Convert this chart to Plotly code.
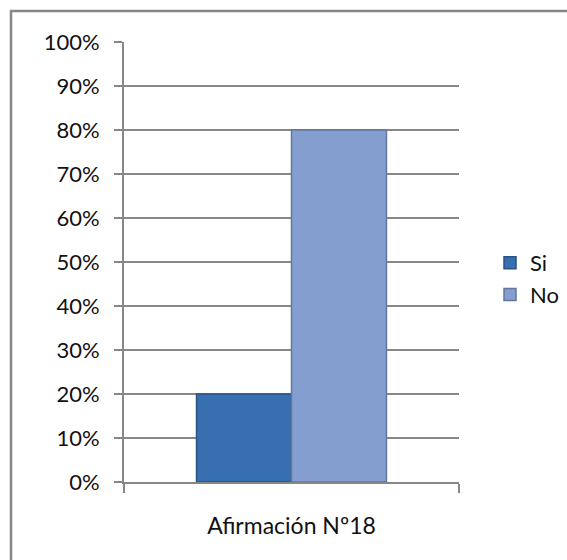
import plotly.graph_objects as go

categories = ["Afirmación Nº18"]
series_names = ["Si", "No"]
series_values = [[0.20], [0.80]]
series_colors = ["#386fb1", "#839ecf"]
series_lines = ["#2a5286", "#62779e"]

y_tickvals = [i / 10 for i in range(11)]
y_ticktext = [f"{i * 10}%" for i in range(11)]

FONT = "Lato"
GREY = "#878787"
W, H = 567, 560

fig = go.Figure()
for name, vals, col, lcol in zip(series_names, series_values, series_colors, series_lines):
    fig.add_trace(go.Bar(
        x=categories, y=vals, name=name,
        marker=dict(color=col, line=dict(color=lcol, width=1.5)),
    ))

# chart frame: only the left and top edges fall inside the canvas
bx, by = 11 / W, 1 - 11 / H
frame_path = f"M {bx},0 L {bx},{by} L 1,{by}"

fig.update_layout(
    width=W, height=H,
    margin=dict(l=0, r=0, t=0, b=0, autoexpand=False),
    paper_bgcolor="white", plot_bgcolor="white",
    barmode="group", bargap=0.433, bargroupgap=0,
    font=dict(family=FONT, size=22, color="#111111"),
    showlegend=True,
    legend=dict(x=490 / W, y=1 - 242 / H, xanchor="left", yanchor="top",
                font=dict(size=22), tracegroupgap=0, itemwidth=30,
                bgcolor="rgba(0,0,0,0)"),
    xaxis=dict(
        domain=[124 / W, 459 / W],
        type="category", showline=True, linecolor=GREY, linewidth=2,
        ticks="outside", tickson="boundaries", ticklen=9, tickcolor=GREY,
        tickwidth=2, showgrid=False, ticklabelstandoff=22,
        tickfont=dict(size=23),
    ),
    yaxis=dict(
        domain=[1 - 482 / H, 1 - 42 / H],
        range=[0, 1], tickvals=y_tickvals, ticktext=y_ticktext,
        showline=True, linecolor=GREY, linewidth=2,
        showgrid=True, gridcolor=GREY, gridwidth=1.5,
        ticks="outside", ticklen=8, tickcolor=GREY, tickwidth=2,
        ticklabelstandoff=10,
        zeroline=False, tickfont=dict(size=22),
    ),
    shapes=[dict(type="path", xref="paper", yref="paper", path=frame_path,
                 line=dict(color=GREY, width=2.5), layer="below")],
)

fig.write_html("out.html")
